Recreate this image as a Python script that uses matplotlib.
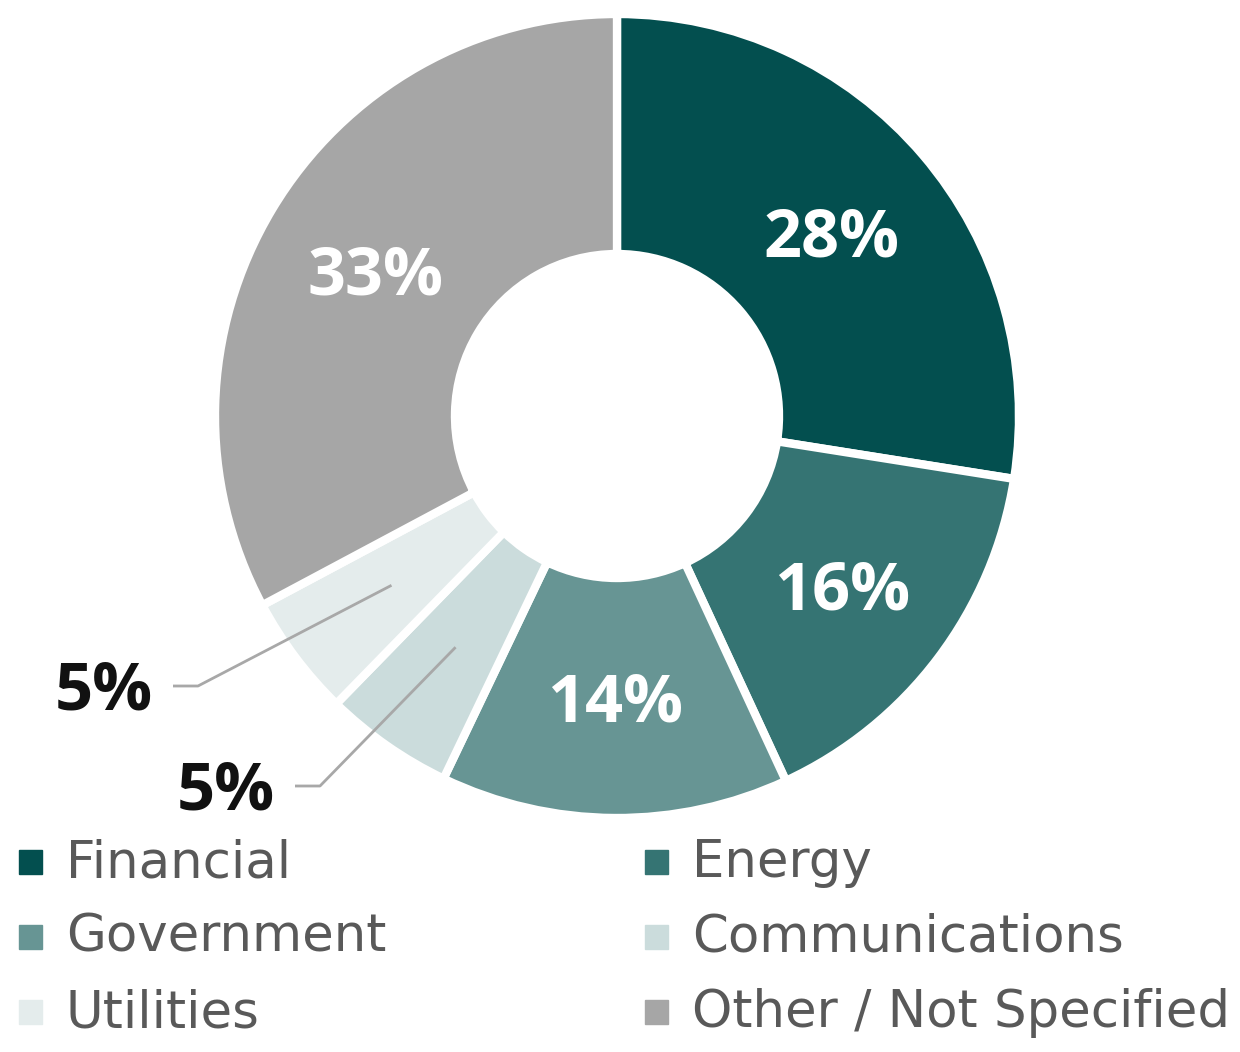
import matplotlib.pyplot as plt
from matplotlib.patches import Rectangle
import numpy as np

plt.rcParams['font.family'] = ['Open Sans', 'DejaVu Sans']

# data
sectors = ["Financial", "Energy", "Government", "Communications", "Utilities", "Other / Not Specified"]
shares = [27.5, 15.6, 14.0, 5.2, 4.9, 32.8]
pct_labels = ["28%", "16%", "14%", "5%", "5%", "33%"]
colors = ["#034f4f", "#357473", "#679594", "#cbdcdc", "#e4ecec", "#a6a6a6"]

fig = plt.figure(figsize=(12.4, 10.52), dpi=100)
ax = fig.add_axes([0, 0, 1, 1])

cx, cy = 617, 636
R, r_in = 402, 162

wedges, _ = ax.pie(shares, colors=colors, startangle=90, counterclock=False,
                   center=(cx, cy), radius=R, frame=True,
                   wedgeprops=dict(width=R - r_in, edgecolor="white", linewidth=6))
ax.set_xlim(0, 1240)
ax.set_ylim(0, 1052)
ax.axis("off")

rmid = (R + r_in) / 2
cap = 48 * 100 / 72 * 0.714
# outer label elbows (layout)
elbow = {3: (320, 266), 4: (198, 366)}
for i, w in enumerate(wedges):
    ang = np.deg2rad((w.theta1 + w.theta2) / 2)
    px, py = cx + rmid * np.cos(ang), cy + rmid * np.sin(ang)
    if i in elbow:
        ex, ey = elbow[i]
        ax.plot([px, ex, ex - 25], [py, ey, ey], color="#a8a8a8", lw=2.0,
                solid_capstyle="butt")
        ax.text(ex - 45, ey - cap / 2, pct_labels[i], ha="right", va="baseline",
                fontsize=48, fontweight="bold", color="#111111")
    else:
        ax.text(px, py - cap / 2, pct_labels[i], ha="center", va="baseline",
                fontsize=48, fontweight="bold", color="white")

# legend (two columns, row-wise)
for i, name in enumerate(sectors):
    col, row = i % 2, i // 2
    x0 = 19 + col * 626
    y0 = 1052 - 862 - row * 75
    ax.add_patch(Rectangle((x0, y0 - 12), 23, 24, color=colors[i]))
    ax.text(x0 + 47, y0 - 15, name, ha="left", va="baseline", fontsize=37,
            color="#595959", family="DejaVu Sans")

fig.savefig("out.png", dpi=100)
